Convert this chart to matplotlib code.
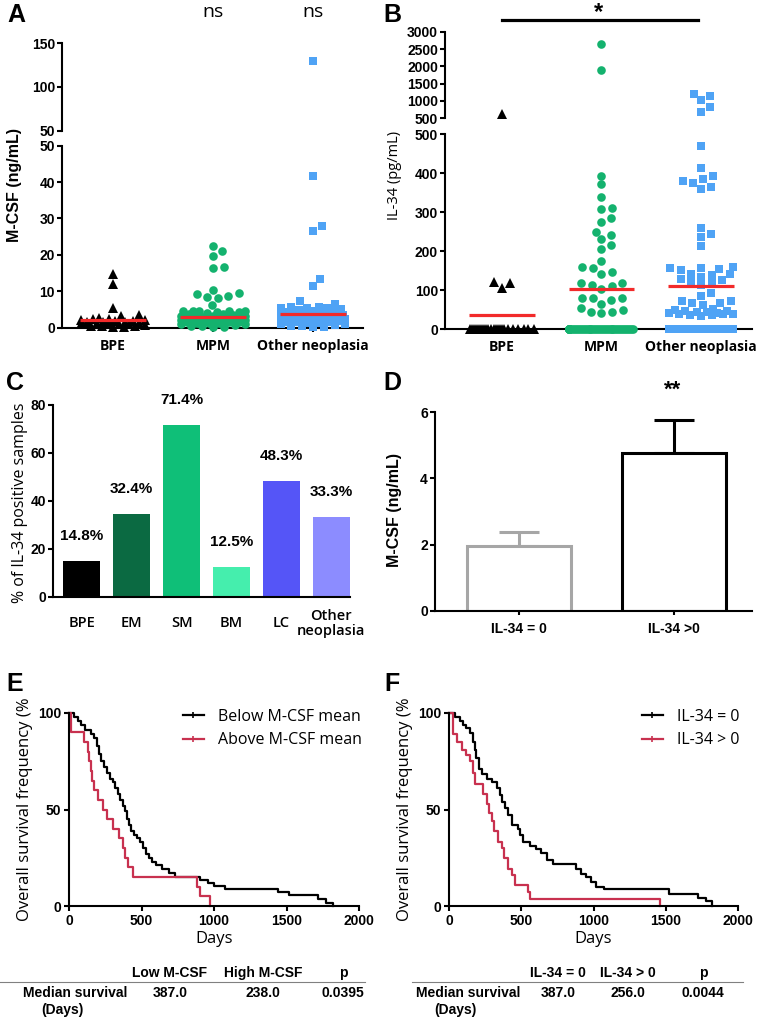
import numpy as np
import matplotlib
matplotlib.use("Agg")
import matplotlib.pyplot as plt
from matplotlib.lines import Line2D

W, H = 760, 1019
fig = plt.figure(figsize=(W / 100, H / 100), dpi=100)

# ---------------- data ----------------
groups_ab = ["BPE", "MPM", "Other neoplasia"]

# panel A, M-CSF (ng/mL)
bpe_mcsf = [14.7, 11.9, 5.3, 3.5, 3.3, 2.6, 2.4, 2.3, 2.1, 2.0, 1.9, 1.8, 1.7,
            1.6, 1.5, 1.4, 1.3, 1.2, 1.1, 1.0, 0.9, 0.8, 0.6, 0.5, 0.4, 0.2, 0.1]
mpm_mcsf = [22.5, 21.1, 19.8, 16.8, 16.5, 10.4, 9.4, 9.2, 8.7, 8.5, 8.1, 6.2,
            4.6, 4.5, 4.5, 4.4, 4.5, 4.6, 4.2, 4.0, 3.8, 3.7, 3.6, 3.4, 3.3,
            3.2, 3.1, 3.0, 2.9, 2.8, 2.7, 2.6, 2.5, 2.5, 2.4, 2.3, 2.2, 2.1,
            2.0, 1.9, 1.8, 1.7, 1.6, 1.5, 1.4, 1.3, 1.2, 1.0, 0.9, 0.8, 0.6,
            0.5, 0.3, 0.2]
other_mcsf = [129.7, 41.8, 28.0, 26.6, 13.3, 11.5, 7.3, 6.5, 5.7, 5.5, 5.3,
              5.4, 5.6, 5.2, 4.8, 4.6, 4.4, 4.3, 4.1, 4.0, 3.9, 3.7, 3.6, 3.5,
              3.4, 3.2, 3.1, 3.0, 2.9, 2.7, 2.6, 2.5, 2.4, 2.2, 2.1, 2.0, 1.9,
              1.7, 1.6, 1.5, 1.3, 1.2, 1.1, 0.9, 0.8, 0.6, 0.5, 0.3, 0.2]
mean_mcsf = [2.0, 2.9, 3.9]

# panel B, IL-34 (pg/mL)
bpe_il34 = [615, 121, 120, 106] + [0] * 23
mpm_il34 = [2635, 1893, 394, 372, 338, 310, 308, 285, 274, 250, 242, 232, 216,
            205, 176, 160, 156, 147, 143, 120, 118, 113, 111, 103, 79, 79, 79,
            75, 65, 54, 49, 45, 44, 41] + [0] * 40
other_il34 = [1201, 1152, 1028, 817, 690, 470, 414, 393, 385, 380, 374, 366,
              359, 261, 244, 237, 214, 160, 157, 156, 154, 152, 143, 141, 139,
              135, 130, 126, 122, 118, 114, 92, 85, 73, 73, 68, 68, 62, 52, 48,
              45, 42, 40, 38, 36, 35, 37, 39, 41, 44, 47, 50] + [0] * 40
mean_il34 = [37, 104, 110]

# panel C
c_groups = ["BPE", "EM", "SM", "BM", "LC", "Other\nneoplasia"]
c_values = [15.0, 34.6, 71.6, 12.5, 48.3, 33.3]
c_labels = ["14.8%", "32.4%", "71.4%", "12.5%", "48.3%", "33.3%"]
c_colors = ["#000000", "#0b6a42", "#0fbf78", "#45eead", "#5555f7", "#8c8cff"]

# panel D
d_groups = ["IL-34 = 0", "IL-34 >0"]
d_means = [1.97, 4.76]
d_err = [0.41, 1.0]
d_colors = ["#a6a6a6", "#000000"]

# panel E, Kaplan-Meier steps (day, % surviving)
e_below_t = [0, 35, 60, 85, 110, 150, 175, 190, 205, 220, 240, 260, 280, 300,
             320, 340, 355, 370, 385, 400, 415, 430, 450, 470, 490, 510, 530,
             550, 575, 600, 640, 690, 730, 900, 960, 1000, 1075, 1440, 1520,
             1720, 1775, 1820]
e_below_s = [100, 98, 96, 94, 91, 89, 87, 83, 79, 75, 72, 69, 66, 64, 61, 58,
             55, 52, 49, 45, 42, 39, 37, 35, 33, 30, 27, 25, 23, 21, 19, 17,
             15, 13.5, 12, 10.5, 9, 7.5, 5.5, 3.5, 1.7, 0]
e_above_t = [0, 12, 105, 130, 140, 150, 160, 175, 200, 235, 265, 300, 345,
             370, 385, 405, 440, 880, 905, 975]
e_above_s = [100, 90, 85, 80, 75, 70, 65, 60, 55, 50, 45, 40, 35, 30, 25, 20,
             15, 10, 5, 0]

# panel F
f_zero_t = [0, 40, 75, 100, 120, 145, 165, 180, 190, 210, 225, 260, 295, 330,
            350, 370, 385, 410, 435, 480, 490, 515, 560, 605, 640, 675, 720,
            880, 915, 950, 985, 1020, 1070, 1520, 1725, 1780, 1820]
f_zero_s = [100, 98, 96, 94, 92, 89.6, 85, 81, 76.5, 71, 68.5, 66, 64, 61,
            57.6, 54, 51, 47, 42, 40, 37, 33, 31, 29.4, 27.7, 24, 21.7, 19,
            16.5, 14.8, 12.2, 9.6, 8.7, 6, 4.3, 2.6, 0]
f_pos_t = [0, 25, 55, 90, 120, 145, 165, 180, 235, 260, 275, 300, 310, 340,
           365, 380, 410, 435, 455, 545, 560, 1460]
f_pos_s = [100, 89, 85, 81, 78, 75, 69, 63, 58, 53, 48, 44, 39, 33, 30, 25,
           19, 16, 11, 7.5, 3.5, 0]

e_table_cols = ["Low M-CSF", "High M-CSF", "p"]
e_table_vals = ["387.0", "238.0", "0.0395"]
f_table_cols = ["IL-34 = 0", "IL-34 > 0", "p"]
f_table_vals = ["387.0", "256.0", "0.0044"]

# ---------------- style ----------------
green = "#14b26e"
blue = "#4fa3f5"
red = "#f22a2a"
km_red = "#c8314f"
TICKFONT = dict(family="Liberation Sans", weight="bold", size=10)
OPEN = "Open Sans"
BOLD = "Liberation Sans"


def fx(px):
    return px / W


def fy(py):
    return 1 - py / H


def add_ax(x0, y0, x1, y1):
    ax = fig.add_axes([x0 / W, 1 - y1 / H, (x1 - x0) / W, (y1 - y0) / H])
    for s in ["top", "right"]:
        ax.spines[s].set_visible(False)
    for s in ["left", "bottom"]:
        ax.spines[s].set_linewidth(1.5)
    ax.tick_params(width=1.5, length=3.6, pad=1.5)
    ax.patch.set_alpha(0)
    return ax


def ticks_bold(ax):
    for t in ax.get_yticklabels():
        t.set_fontproperties(matplotlib.font_manager.FontProperties(**TICKFONT))


# GraphPad-like scatter: points pushed sideways when they sit in the same "row"
def swarm_x(ax, center, values, d=11.0, k=1.35, half=32):
    values = np.asarray(values, float)
    if len(values) == 0:
        return values
    pts = ax.transData.transform(np.column_stack([np.full(len(values), center), values]))
    ys = pts[:, 1] * k
    unit = ax.transData.transform((1, 0))[0] - ax.transData.transform((0, 0))[0]
    placed = []
    offs = np.zeros(len(values))
    for i in np.argsort(ys, kind="stable"):
        y = ys[i]
        near = [(px, py) for px, py in placed if abs(py - y) < d]
        cands = [0.0]
        for px, py in near:
            dx = np.sqrt(d * d - (py - y) ** 2)
            cands += [px + dx, px - dx]
        cands.sort(key=abs)
        pick = None
        for c in cands:
            if abs(c) <= half and all((c - px) ** 2 + (y - py) ** 2 >= d * d - 1e-6 for px, py in near):
                pick = c
                break
        if pick is None:
            grid = np.linspace(-half, half, 33)
            score = [min((g - px) ** 2 + (y - py) ** 2 for px, py in near) for g in grid]
            pick = grid[int(np.argmax(score))]
        placed.append((pick, y))
        offs[i] = pick
    return center + offs / unit


def dot_panel(ax_top, ax_bot, datasets, means, brk):
    styles = [("^", "black", 7), ("o", green, 6.2), ("s", blue, 5.6)]
    for k, vals in enumerate(datasets):
        vals = np.asarray(vals, float)
        mk, col, ms = styles[k]
        for ax, sel in [(ax_top, vals > brk), (ax_bot, vals <= brk)]:
            v = vals[sel]
            xs = swarm_x(ax, k, v)
            ax.plot(xs, v, ls="none", marker=mk, color=col, ms=ms, mew=0,
                    clip_on=False, zorder=3)
        ax_bot.plot([k - 0.33, k + 0.33], [means[k], means[k]], color=red,
                    lw=2.3, zorder=4, solid_capstyle="butt")


# ---------------- panel A ----------------
a_top = add_ax(62, 43.3, 363, 130.7)
a_bot = add_ax(62, 145.7, 363, 327.7)
for ax in (a_top, a_bot):
    ax.set_xlim(-0.51, 2.5)
a_top.set_ylim(50, 150)
a_bot.set_ylim(0, 50)
a_top.set_yticks([50, 100, 150])
a_bot.set_yticks(range(0, 51, 10))
a_top.spines["bottom"].set_visible(False)
a_top.set_xticks([])
a_bot.set_xticks(range(3))
a_bot.set_xticklabels(groups_ab, family=OPEN, weight="bold", size=10, va="center")
a_bot.tick_params(axis="x", length=3, pad=10)
dot_panel(a_top, a_bot, [bpe_mcsf, mpm_mcsf, other_mcsf], mean_mcsf, 50)
for ax in (a_top, a_bot):
    ticks_bold(ax)
fig.text(fx(15), fy(185), "M-CSF (ng/mL)", rotation=90, ha="center", va="center",
         family=BOLD, weight="bold", size=11.5)
fig.text(fx(213), fy(12), "ns", ha="center", va="center", family=OPEN, size=14)
fig.text(fx(313), fy(12), "ns", ha="center", va="center", family=OPEN, size=14)
fig.text(fx(16), fy(15), "A", ha="center", va="center", family=BOLD, weight="bold", size=18)

# ---------------- panel B ----------------
b_top = add_ax(445, 31.7, 752, 118.3)
b_bot = add_ax(445, 134.3, 752, 329.3)
for ax in (b_top, b_bot):
    ax.set_xlim(-0.573, 2.513)
b_top.set_ylim(500, 3000)
b_bot.set_ylim(0, 500)
b_top.set_yticks(range(500, 3001, 500))
b_bot.set_yticks(range(0, 501, 100))
b_top.spines["bottom"].set_visible(False)
b_top.set_xticks([])
b_bot.set_xticks(range(3))
b_bot.set_xticklabels(groups_ab, family=OPEN, weight="bold", size=10, va="center")
b_bot.tick_params(axis="x", length=3, pad=10)
dot_panel(b_top, b_bot, [bpe_il34, mpm_il34, other_il34], mean_il34, 500)
for ax in (b_top, b_bot):
    ticks_bold(ax)
fig.text(fx(395), fy(175), "IL-34 (pg/mL)", rotation=90, ha="center", va="center",
         family=OPEN, size=10.5)
fig.add_artist(Line2D([fx(502), fx(698)], [fy(20), fy(20)], color="black", lw=2.3))
fig.text(fx(599), fy(13), "*", ha="center", va="center", family=BOLD, weight="bold", size=17)
fig.text(fx(392), fy(15), "B", ha="center", va="center", family=BOLD, weight="bold", size=18)

# ---------------- panel C ----------------
c_ax = add_ax(53, 405, 350, 597)
xc = np.arange(len(c_groups))
c_ax.bar(xc, c_values, width=0.74, color=c_colors)
c_ax.set_xlim(-0.58, 5.38)
c_ax.set_ylim(0, 80)
c_ax.set_yticks(range(0, 81, 20))
c_ax.set_xticks(xc)
c_ax.set_xticklabels(c_groups, family=OPEN, weight="semibold", size=10.5, va="center",
                     linespacing=1.05)
c_ax.tick_params(axis="x", length=0, pad=19)
ticks_bold(c_ax)
for x, v, lab in zip(xc, c_values, c_labels):
    c_ax.annotate(lab, (x, v), xytext=(0, 18), textcoords="offset points",
                  ha="center", va="center", family=BOLD, weight="bold", size=11)
fig.text(fx(20), fy(503), "% of IL-34 positive samples", rotation=90, ha="center",
         va="center", family=OPEN, size=11.5)
fig.text(fx(15), fy(383), "C", ha="center", va="center", family=BOLD, weight="bold", size=18)

# ---------------- panel D ----------------
d_ax = add_ax(435, 412, 752, 611)
xd = np.arange(len(d_groups))
d_ax.bar(xd, d_means, width=0.67, color="white", edgecolor=d_colors, linewidth=2.2, zorder=2)
for x, m, e, col in zip(xd, d_means, d_err, d_colors):
    d_ax.errorbar([x], [m], yerr=[[0], [e]], fmt="none", ecolor=col, elinewidth=2.2,
                  capsize=14.4, capthick=2.2, zorder=1)
d_ax.set_xlim(-0.542, 1.503)
d_ax.set_ylim(0, 6)
d_ax.set_yticks([0, 2, 4, 6])
d_ax.set_xticks(xd)
d_ax.set_xticklabels(d_groups, family=BOLD, weight="bold", size=10)
d_ax.tick_params(axis="x", length=3, pad=5)
ticks_bold(d_ax)
fig.text(fx(395), fy(510), "M-CSF (ng/mL)", rotation=90, ha="center", va="center",
         family=BOLD, weight="bold", size=11.5)
fig.text(fx(673), fy(390), "**", ha="center", va="center", family=BOLD, weight="bold", size=16)
fig.text(fx(392), fy(383), "D", ha="center", va="center", family=BOLD, weight="bold", size=18)


# ---------------- panels E, F ----------------
def km_panel(x0, x1, curves, labels, leg_x, letter, letter_x, ylab_x):
    ax = add_ax(x0, 713, x1, 906)
    ax.set_xlim(0, 2000)
    ax.set_ylim(0, 100)
    ax.set_xticks(range(0, 2001, 500))
    ax.set_yticks([0, 50, 100])
    ax.tick_params(length=3.6, pad=2)
    for (t, s, col), lab in zip(curves, labels):
        ax.step(t, s, where="post", color=col, lw=1.6, clip_on=False, label=lab)
    for t in ax.get_xticklabels() + ax.get_yticklabels():
        t.set_fontproperties(matplotlib.font_manager.FontProperties(**TICKFONT))
    ax.set_xlabel("Days", family=OPEN, size=12, labelpad=2)
    handles = [Line2D([], [], color=c[2], lw=1.6, marker="|", ms=4, mew=1.2) for c in curves]
    ax.legend(handles, labels, loc="upper left", bbox_to_anchor=(fx(leg_x), fy(709)),
              bbox_transform=fig.transFigure, frameon=False, borderpad=0,
              borderaxespad=0, handlelength=1.3, handletextpad=0.9, labelspacing=0.45,
              prop=dict(family=OPEN, size=11.5))
    fig.text(fx(ylab_x), fy(697), "Overall survival frequency (%", rotation=90,
             ha="center", va="top", family=OPEN, size=12)
    fig.text(fx(letter_x), fy(684), letter, ha="center", va="center", family=BOLD,
             weight="bold", size=18)
    return ax


km_panel(69, 359, [(e_below_t, e_below_s, "black"), (e_above_t, e_above_s, km_red)],
         ["Below M-CSF mean", "Above M-CSF mean"], 183, "E", 15, 25)
km_panel(449, 738, [(f_zero_t, f_zero_s, "black"), (f_pos_t, f_pos_s, km_red)],
         ["IL-34 = 0", "IL-34 > 0"], 642, "F", 392, 405)


def table(cols, vals, col_x, name_x, days_x, x0, x1):
    tf = dict(family=BOLD, weight="bold", size=10, ha="center", va="center")
    for c, v, x in zip(cols, vals, col_x):
        fig.text(fx(x), fy(973), c, **tf)
        fig.text(fx(x), fy(993), v, **tf)
    fig.text(fx(name_x), fy(993), "Median survival", **tf)
    fig.text(fx(days_x), fy(1010), "(Days)", **tf)
    fig.add_artist(Line2D([fx(x0), fx(x1)], [fy(982), fy(982)], color="#808080", lw=0.8))


table(e_table_cols, e_table_vals, [170, 263, 343], 75, 62, 0, 365)
table(f_table_cols, f_table_vals, [558, 628, 703], 468, 455, 412, 743)

fig.savefig("out.png", dpi=100)
